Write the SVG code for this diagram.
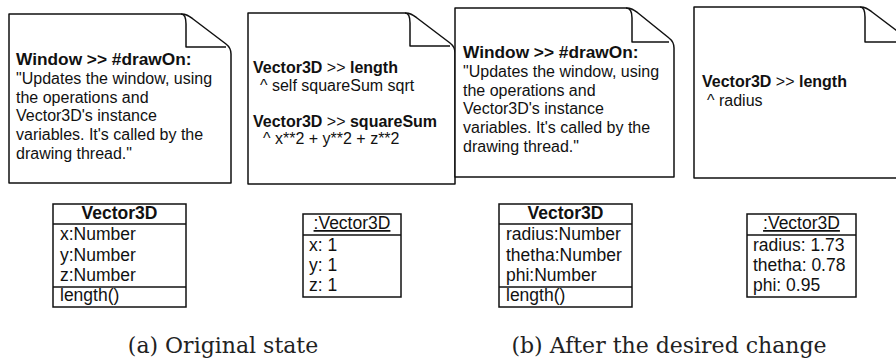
<svg xmlns="http://www.w3.org/2000/svg" width="896" height="363" viewBox="0 0 896 363">
<style>
.note{fill:#fff;stroke:#111;stroke-width:1.5;stroke-linejoin:round}
.fold{fill:none;stroke:#111;stroke-width:1.5;stroke-linejoin:round}
.box{fill:#fff;stroke:#111;stroke-width:1.5}
.sep{stroke:#111;stroke-width:1.5}
.nt{font-family:"Liberation Sans",Arial,Helvetica,sans-serif;font-size:16px;fill:#111}
.b{font-weight:bold}
.h{font-size:17.3px}
.ct{font-family:"Liberation Sans",Arial,Helvetica,sans-serif;font-size:17.5px;fill:#111}
.cap{font-family:"DejaVu Serif","Liberation Serif",serif;font-size:22px;fill:#222}
</style>
<g id="note1">
<path class="note" d="M9,14 H181 C187,14 189,16 193,19 L226,44 C230,47 231,50 231,54 V183 H9 Z"/>
<path class="fold" d="M181,14 C185,14 186,18 186,24 V47 H226"/>
<text class="nt" x="16" y="65"><tspan class="b h">Window &gt;&gt; #drawOn:</tspan><tspan x="16" y="84">"Updates the window, using</tspan><tspan x="16" y="103">the operations and</tspan><tspan x="16" y="121">Vector3D's instance</tspan><tspan x="16" y="140">variables. It's called by the</tspan><tspan x="16" y="159">drawing thread."</tspan></text>
</g>
<g id="note2">
<path class="note" d="M248,13 H405 C411,13 413,15 417,18 L450,43 C454,46 455,49 455,53 V184 H248 Z"/>
<path class="fold" d="M405,13 C409,13 410,17 410,23 V46 H450"/>
<text class="nt" x="253" y="73"><tspan class="b">Vector3D</tspan> &gt;&gt; <tspan class="b">length</tspan></text>
<text class="nt" x="260" y="91">^ self squareSum sqrt</text>
<text class="nt" x="253" y="127"><tspan class="b">Vector3D</tspan> &gt;&gt; <tspan class="b">squareSum</tspan></text>
<text class="nt" x="263" y="144">^ x**2 + y**2 + z**2</text>
</g>
<g id="note3">
<path class="note" d="M455,8 H626 C632,8 634,10 638,13 L669,38 C673,41 674,44 674,48 V177 H455 Z"/>
<path class="fold" d="M626,8 C630,8 632,12 632,18 V42 H669"/>
<text class="nt" x="463" y="58"><tspan class="b h">Window &gt;&gt; #drawOn:</tspan><tspan x="463" y="77">"Updates the window, using</tspan><tspan x="463" y="96">the operations and</tspan><tspan x="463" y="114">Vector3D's instance</tspan><tspan x="463" y="133">variables. It's called by the</tspan><tspan x="463" y="152">drawing thread."</tspan></text>
</g>
<g id="note4">
<path class="note" d="M694,7 H860 C866,7 868,9 872,12 L905,37 C909,40 910,43 910,47 V178 H694 Z"/>
<path class="fold" d="M860,7 C864,7 865,11 865,17 V42 H905"/>
<text class="nt" x="702" y="87"><tspan class="b">Vector3D</tspan> &gt;&gt; <tspan class="b">length</tspan></text>
<text class="nt" x="707" y="106">^ radius</text>
</g>
<g id="class1">
<rect class="box" x="53" y="204" width="133" height="103"/>
<line class="sep" x1="53" y1="224" x2="186" y2="224"/>
<line class="sep" x1="53" y1="287" x2="186" y2="287"/>
<text class="ct b" x="119.5" y="219" text-anchor="middle">Vector3D</text>
<text class="ct" x="60" y="240">x:Number</text>
<text class="ct" x="60" y="261">y:Number</text>
<text class="ct" x="60" y="281">z:Number</text>
<text class="ct" x="60" y="301">length()</text>
</g>
<g id="object1">
<rect class="box" x="303" y="214" width="98" height="83"/>
<line class="sep" x1="303" y1="235" x2="401" y2="235"/>
<text class="ct" x="352" y="229" text-anchor="middle" text-decoration="underline">:Vector3D</text>
<text class="ct" x="309" y="251">x: 1</text>
<text class="ct" x="309" y="271">y: 1</text>
<text class="ct" x="309" y="291">z: 1</text>
</g>
<g id="class2">
<rect class="box" x="499" y="204" width="133" height="103"/>
<line class="sep" x1="499" y1="224" x2="632" y2="224"/>
<line class="sep" x1="499" y1="287" x2="632" y2="287"/>
<text class="ct b" x="565.5" y="219" text-anchor="middle">Vector3D</text>
<text class="ct" x="506" y="240">radius:Number</text>
<text class="ct" x="506" y="261">thetha:Number</text>
<text class="ct" x="506" y="281">phi:Number</text>
<text class="ct" x="506" y="301">length()</text>
</g>
<g id="object2">
<rect class="box" x="747" y="214" width="109" height="83"/>
<line class="sep" x1="747" y1="235" x2="856" y2="235"/>
<text class="ct" x="801.5" y="229" text-anchor="middle" text-decoration="underline">:Vector3D</text>
<text class="ct" x="753" y="251">radius: 1.73</text>
<text class="ct" x="753" y="271">thetha: 0.78</text>
<text class="ct" x="753" y="291">phi: 0.95</text>
</g>
<g id="connectors"></g>
<text class="cap" x="223" y="353" text-anchor="middle">(a) Original state</text>
<text class="cap" x="669" y="353" text-anchor="middle" font-size="22.4">(b) After the desired change</text>
</svg>
